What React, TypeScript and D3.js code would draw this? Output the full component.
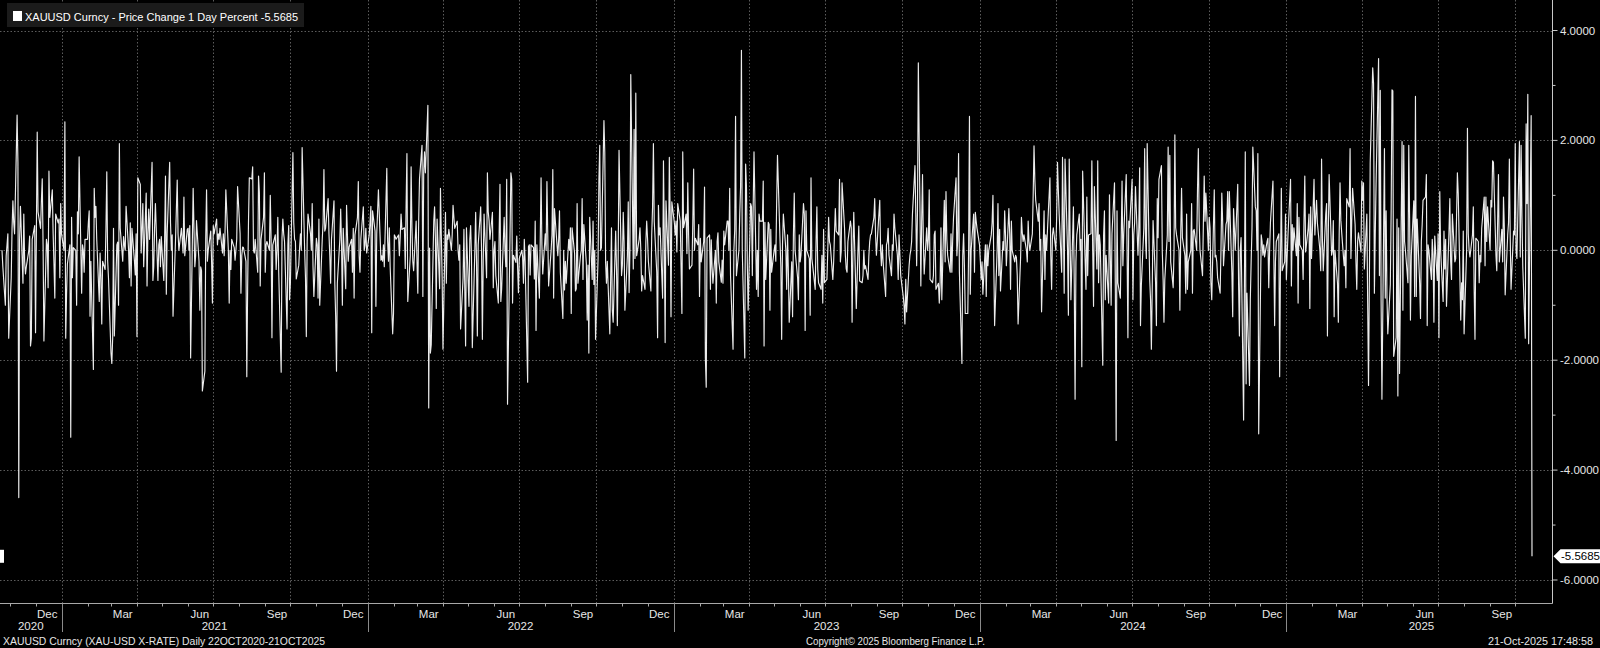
import React, { useMemo } from "react";
import * as d3 from "d3";

// ---------- DATA ----------
const legendLabel = "XAUUSD Curncy - Price Change 1 Day Percent";
const lastValue = -5.5685;
const firstDate = new Date(2020, 9, 22);
const lastDate = new Date(2025, 9, 21);
const yTickValues = [4, 2, 0, -2, -4, -6];
const yMinorTickValues = [3, 1, -1, -3, -5];
const monthNames = ["Jan", "Feb", "Mar", "Apr", "May", "Jun", "Jul", "Aug", "Sep", "Oct", "Nov", "Dec"];
const labelledMonths = [11, 2, 5, 8];
const footerLeft = "XAUUSD Curncy (XAU-USD X-RATE) Daily 22OCT2020-21OCT2025";
const footerMid = "Copyright\u00A9 2025 Bloomberg Finance L.P.";
const footerRight = "21-Oct-2025 17:48:58";

// daily % change
const pctLate2020to2021Q1 = [
  0.0, -0.3, -1.0, -0.1, 0.1, 0.3, -1.6, -0.5, 0.4, 0.9,
  0.5, 0.3, 2.46, 1.6, -4.5, 0.2, 0.8, -0.6, 0.66, -0.2,
  -0.43, -0.3, 0.0, 0.26, -1.74, -1.6, 0.2, 0.45, -1.5, 0.3,
  2.15, 0.7, 0.4, 0.9, 1.3, 0.1, -1.65, 0.2, 0.1, -0.68,
  1.44, 0.6, 1.1, 0.3, -0.25, -0.87, 0.66, 0.5, 0.57, -0.5,
  0.85, 0.3, 0.0, 2.34, -1.6, -0.8, -0.25, 0.1, -3.4, 0.6,
  -0.5, 0.05, 0.0, -1.0, 0.7, 0.3, 1.7, -0.78, 0.1, 0.0,
  -0.4, 0.2, 0.2, 0.5, 0.72, -1.2, -0.2, -2.17, 1.13, 0.6,
  0.8, 0.2, -0.93, -0.05, -0.5, -1.34, -0.2, -0.35, 0.4, 1.43,
  -0.18, -0.5, -1.87, -2.06, -1.6, 0.4, -1.56, 0.1, 0.15, -1.0,
  1.94, 0.4, -0.2, 0.25, 0.1, 0.0, 0.8, 0.0, -0.5, 0.5,
  -0.65, 0.4, -0.2, -0.45, 0.3, -1.57, 1.32, 1.2, -0.05, 0.4,
  0.85, -0.3, 1.04, -0.65, 0.3, 0.75, 0.2, 1.6, -0.55, -0.3,
  0.4, 0.85, -0.55, 0.1, 0.2, -0.3, 0.25, -0.55, 0.2, 1.35,
  -0.8, 0.3, 1.6, 0.5, 0.0, 0.28, -1.2, 0.2, 0.75, 1.28,
  0.3, 0.0, 0.4, 0.2, -0.05, 0.97, -0.1, 0.38, 0.4, 0.0,
  0.45,
];
const pct2021b = [
  -1.96, 1.13, 0.4, -0.3, -0.1, 0.54, -0.2, -1.09, -0.3, -0.37,
  -2.56, -2.2, 0.2, 1.1, -0.2, 0.0, 0.35, -0.2, -0.96, 0.45,
  0.3, 0.57, 0.1, 0.3, 0.2, 0.4, -0.05, 0.3, -0.1, 0.3,
  1.1, 0.0, -0.96, 0.0, -0.35, 0.2, 0.05, -0.18, 0.0, 0.2,
  1.16, 0.3, -0.78, -0.1, 0.06, 0.05, -0.2, -2.3, -0.7, 0.5,
  1.32, 1.3, 1.52, 0.0, -0.05, 0.2, -0.4, 1.35, 1.05, -0.65,
  0.2, 0.6, 1.41, -0.4, 0.1, 0.16, 0.0, 1.0, 0.2, -1.59,
  0.1, 0.28, -0.35, 0.0, 0.6, -0.35, -2.22, 0.23, 0.57, 0.3,
  0.16, -1.43, 0.1, 0.45, -0.9, -0.6, 1.78, 0.5, 0.2, 0.16,
  -0.52, -0.27, 0.05, 0.3, 0.0, 1.87, 0.0, -0.5, -1.57, 0.16,
  0.66, 0.3, 0.0, 0.85, -0.3, -0.84, 0.22, 0.1, -0.87, 0.57,
  -1.0, 0.2, 0.5, 1.47, 0.35, 0.4, 0.94, 0.3, -0.1, -0.6,
  0.2, 0.9, -0.62, -1.2, -2.2, -0.6, 0.2, 0.75, 0.1, -1.0,
  0.4, -0.7, 0.82, 0.3, -0.2, 0.06, 0.2, -0.4, 0.4, -0.87,
  0.28, 0.6, 1.25, -0.1, -0.4, 0.2, 0.79, 0.0, 0.1, 0.4,
  -0.05, 0.28, 0.5, 0.8, -1.5, 0.72, 0.35, -1.02, 0.3, 0.7,
  1.1, -0.18,
];
const pct2022a = [
  -0.1, -0.2, 0.1, -0.3, 1.49, 0.16, -0.2, 0.41, -0.3, -1.52,
  -1.15, 0.28, 0.25, 0.2, 0.28, -0.1, 0.25, 0.66, 0.38, 0.41,
  -0.33, 0.8, 1.76, -0.93, -0.1, 1.52, 0.4, -0.2, -0.37, 0.53,
  -0.2, -0.78, 0.53, 1.3, 1.91, -0.84, 1.41, 1.79, 1.41, 2.64,
  -2.87, 0.04, -1.87, -1.72, 0.53, 0.79, 0.2, -1.06, 0.57, -0.7,
  1.13, 0.28, -0.5, -1.8, 0.69, -0.6, 0.28, 0.2, 0.38, 0.0,
  0.28, 0.82, 0.6, 0.4, 0.53, 0.0, -0.18, 0.1, -1.43, -0.5,
  0.38, -0.7, -1.74, 0.41, -1.02, 0.2, 0.45, -0.1, -1.77, 0.0,
  0.69, -0.22, -1.56, 0.1, 0.79, 0.0, -1.62, -0.2, 0.66, -0.5,
  1.41, 0.7, 0.54, 0.2, 0.69, -0.68, 0.0, 0.16, -0.46, -0.96,
  0.3, 1.2, -0.93, -0.7, 0.6, 0.0, -0.3, 1.29, -2.8, 0.3,
  1.41, 1.29, -0.96, -0.09, -0.22, 0.26, -0.3, -0.77, -0.15, 0.0,
  -0.12, -0.6, 0.2, -0.2, -2.4, 0.07, 0.1, -0.45, 0.1, 0.05,
  -0.52, 0.53, -1.46, 0.1, -0.87, 0.16, 1.32, 0.1, -0.43, 0.3,
  0.0, 1.25, 0.28, -0.65, 0.0, 0.28, 1.47, -0.87, 0.76, 0.1,
  -0.1, 0.2, 0.72, -0.4, -1.24, 0.0, -0.72, -0.2, -0.6, 0.2,
  0.0, 0.41,
];
const pct2022b2023a = [
  -1.15, 0.41, -0.06, -0.74, -0.7, 0.85, -0.6, -0.1, 0.0, 0.94,
  -0.53, 0.47, -0.24, -1.27, -0.27, -1.87, 0.6, -0.53, 0.53, -0.62,
  0.0, -1.62, -0.15, 1.29, 1.91, 0.0, 0.05, 2.36, 1.79, -0.22,
  -0.6, -0.2, -1.52, -0.53, 0.41, -1.09, -1.31, 0.35, -0.34, -1.37,
  -0.09, 1.82, -0.46, -0.27, 0.69, 0.16, -1.09, -0.09, 0.88, -0.77,
  0.0, 3.2, -0.34, 2.2, -0.15, 2.86, -0.1, 0.2, 0.41, 0.0,
  -0.74, -0.46, -0.71, 0.16, 0.53, 0.22, -0.2, -0.74, 0.28, 0.79,
  1.94, 0.53, -0.4, -1.59, 0.82, 0.28, 0.41, -0.87, 1.63, 0.28,
  -1.68, 0.9, -0.27, 1.69, 0.66, -1.21, 0.88, 0.5, 0.28, 0.53,
  -0.03, 0.85, 0.53, -0.3, -1.15, 1.79, 0.41, 0.66, -0.06, 1.23,
  0.28, -0.34, -0.27, 0.5, 1.48, 0.0, 0.22, 0.1, 0.47, -0.84,
  0.22, -0.21, 0.16, 1.15, -1.96, -2.49, 0.22, 0.28, -0.71, 0.19,
  -0.3, -0.6, 0.0, -0.96, 0.16, 0.32, -0.21, -0.58, -0.18, -0.6,
  0.35, 0.1, 0.53, 0.53, 0.0, 1.13, -0.46, -1.8, 0.0, 0.38,
  2.44, -0.46, 0.0, 0.66, 1.16, 3.64, 0.0, -1.96, 1.57, 1.16,
  -0.22, -1.09, 0.85, 0.79, -0.46, 0.79, 1.79, -0.71, 0.0, -0.84,
  0.66, 0.53,
];
const pct2023b = [
  0.53, 1.26, -1.74, 0.51, -0.53, 0.51, 0.47, -1.09, 0.38, -0.4,
  0.0, 0.1, -0.2, 0.85, 1.73, 0.2, -0.3, -1.62, 0.1, 0.66,
  0.0, -0.71, 0.28, -0.4, -1.31, -0.21, -1.21, 0.28, 1.04, 0.0,
  -0.5, -0.9, 0.28, -0.21, -0.09, 0.85, 0.66, -1.46, 0.72, 0.0,
  -0.15, -1.18, 1.32, -0.15, -0.28, -0.71, 0.16, 0.79, -0.34, -0.59,
  -0.71, -0.09, -0.96, 0.38, -0.59, -0.53, 0.0, 0.6, 0.16, 0.1,
  -0.53, -0.21, 0.3, 0.76, 0.35, 0.28, 1.29, -0.21, -0.02, 1.23,
  0.4, -0.1, -0.34, -0.4, 0.16, 0.53, 0.41, -1.31, 0.0, 0.69,
  -1.06, -0.53, 0.0, 0.44, -0.56, -0.59, -0.46, 0.0, -0.34, -0.28,
  -0.53, -0.1, 0.16, 0.28, 0.3, 0.6, 0.94, 0.28, -0.09, 0.16,
  0.91, 0.0, -0.28, 0.1, -0.21, -0.84, 0.1, 0.16, 0.4, -0.09,
  -0.46, 0.1, 0.0, 0.66, 0.41, -0.09, -0.53, 0.28, -0.09, -0.46,
  -0.84, -1.0, -1.34, -0.53, -1.12, -0.28, -0.09, 0.0, 0.16, 0.66,
  1.54, 0.66, -0.28, 0.72, 3.41, -0.65, 0.53, 1.38, 0.16, -0.43,
  0.41, 0.0, 0.2, 1.1, -0.53, -0.59, -0.46, 0.28, 0.35, -0.71,
  -0.6, -0.96, -0.59, 0.41, -0.9, 0.91, -0.21, 1.07, 0.2, -0.09,
  -0.4, 0.3,
];
const pct2024a = [
  -0.4, 0.2, 0.6, 1.32, -0.1, 0.2, 1.76, -0.4, -2.06, -0.09,
  0.3, -0.3, -1.15, -1.15, 0.0, 2.44, -0.8, 0.0, 0.66, -0.4,
  0.69, 0.53, 0.4, 0.1, -0.2, -0.53, -0.21, -0.8, 0.1, -0.84,
  0.1, -0.28, 0.0, 0.28, 0.5, 1.0, -0.21, -1.37, 0.0, 0.85,
  -0.46, 0.38, -0.74, 0.16, 0.0, 0.72, 0.28, -0.28, 0.76, 0.3,
  -0.71, 0.53, 0.0, -0.21, -0.09, -0.13,
  -0.46, -1.34, -0.13, 0.6, 0.32, 0.16, 0.28, 0.0, -0.21, 0.53,
  0.16, 0.0, 0.3, 1.0, 1.9, 1.29, 0.91, 0.53, 0.85, 0.0,
  0.2, -1.12, 0.72, -0.53, 0.28, 0.0, 0.35, 1.32, -0.09, -0.71,
  0.28, 0.41, 0.0, 0.6, 1.6, 1.1, 0.66, -0.4, 1.69, 0.53,
  -0.78, 1.66, 0.0, -1.18,
  1.66, 0.28, -0.9, 0.79, -0.6, -2.71, -0.21, 0.28, 0.66, 0.0,
  0.2, -2.12, 1.44, -0.21, -0.71, 0.97, -0.46, 0.28,
  0.3, 1.63, 0.0, -1.02, 1.16, -0.34, 1.63, -0.59, 0.28, 0.1,
  -2.09, 0.28, 0.72, -0.9, -0.09, -0.96, 1.01, -0.1, -1.0, 0.3,
  1.23, -0.71, -3.46, 0.72, -0.59, -0.87, 0.2, 1.26, -0.28, 0.28,
  1.38, 0.0, -1.59, 0.53, 0.41, 1.29, -0.9, 0.28, 0.5, 1.16,
  -0.09, 0.41, 1.5, -1.37,
];
const pct2024b = [
  -0.65, 0.41, 1.85, 0.2, -0.15, 1.94, -0.53, -0.9, -1.8, -0.71,
  0.54, -0.59, -1.37, 0.94, 0.23, 1.29, 1.54, -0.02, -0.53, -1.31,
  -0.53, 0.28, 1.88, 0.16, 1.73, -0.21, -0.68, 0.0, 2.1, 0.41,
  0.28, 0.0, -1.09, 0.3, 1.13, 0.23, -0.1, -0.78, 0.66, -0.71,
  -0.21, 0.0, 0.85, -0.78, 0.35, 0.38, 0.0, 1.1, 1.85, 0.53,
  0.0, -0.46, 0.47, 1.35, 0.53, 1.04, 0.0, 0.6, 0.4, -0.59,
  -0.9, 1.1, -0.12, -0.09, -0.21, -0.5, -0.78, 0.0, 1.04, 0.53,
  -0.28, 0.47, 0.53, 1.07, 0.0, 1.07, -0.4, -1.21, 0.76, 0.41,
  0.0, 1.2, -0.6, -1.56, 0.0, 0.23, -3.09, -0.53, 1.79, -2.43,
  -0.78, -2.46, -0.9, -0.21, 0.4, 1.88, 0.79, 0.72, 0.0, 1.76,
  -3.34, 0.28, 0.16, -0.09, 0.1, -0.12, 0.16, 0.22, -0.68, 0.0,
  0.5, 1.26, 0.0, -1.37, -0.2, 0.16, 0.3, -2.3, -0.21, 1.13,
  -0.37, -0.21, 0.66, -0.53, -0.09, 0.3, 1.29, -0.65, 0.47, 0.0,
  0.41, -0.1, 0.85, -0.96, 0.6, 0.1, 0.0, -0.53, 0.53, 1.35,
  -0.03, 0.4, 0.66, -1.06, 0.79, -0.15, 1.29, 0.28, 0.6, 0.91,
  0.5, 0.0, -0.37, 1.66, 0.2, -0.37, 0.66, 0.85, -1.56, 0.28,
  1.38, -0.09,
];
const pct2025 = [
  0.0, 0.54, -1.21, 0.0, -0.6, -1.31, 0.28, 1.23, 0.54, -0.1,
  -0.28, 0.0, -0.68, 0.94, 0.79, 1.85, -0.15, 0.54, 1.13, 0.47,
  -0.21, -0.71, 0.16, 0.32, -0.03, 1.26, 0.91, 1.23, -0.34, 0.66,
  -0.96, -2.46, -0.59, 1.6, 3.32, 3.04, -0.78, 0.28, 1.2, 3.49,
  -0.46, 2.91, -0.9, -2.71, 1.85, -0.87, 0.72, -0.84, -1.52, -0.62,
  0.72, 2.92, 2.9, -1.93, -1.59, 0.57, -2.65, 0.41, -2.24, 1.98,
  -1.09, 1.91, 0.16, 0.0, -0.59, 1.91, 0.6, -1.27, -0.1, 0.9,
  -0.84, 2.8, -0.84, 0.57, -0.6, -1.24, 0.16, 0.47, 0.91, 0.97,
  1.38, -1.37, 0.1, 0.0, -0.53, 0.2, -0.09, -1.31, 0.26, -0.55,
  0.3, -1.59, 1.07, 0.0, -0.93, 0.35, -0.34, 0.2, -1.02, 0.35,
  0.94, -0.21, -0.53, 0.66, -0.21, -0.15, 0.6, 1.41, 1.04, -1.27,
  -0.59, -0.9, 0.35, -1.52, 0.0, 2.22, 0.3, 0.0, -0.12, 0.28,
  0.79, -0.71, -1.62, 0.22, 0.16, -0.59, -0.09, -0.21, 0.4, 0.97,
  -0.28, 0.97, 0.16, 0.79, 0.0, 0.91, 0.79, 1.63, 1.6, -0.09,
  -0.37, 0.53, 1.38, -0.21, 0.38, -0.21, 0.97, 0.41, -0.81, 0.28,
  0.5, 1.66, 0.28, -0.71, 0.35, 0.28, 1.94, 0.0, -0.15, 1.98,
  -0.12, 1.91,
];
const pctOct2025 = [0.62, -0.3, -1.6, 2.3, 0.85, 2.84, -1.7, 2.45, -5.5685];

const pctValues = [
  ...pctLate2020to2021Q1, ...pct2021b, ...pct2022a, ...pct2022b2023a,
  ...pct2023b, ...pct2024a, ...pct2024b, ...pct2025, ...pctOct2025,
];

// ---------- LAYOUT ----------
const W = 1600;
const H = 648;
const AXIS_X = 1552.5;
const AXIS_Y = 603.5;
const FONT = "'Liberation Sans Narrow', 'Liberation Sans', Arial, sans-serif";

function weekdaysBack(end: Date, n: number): Date[] {
  const out: Date[] = [];
  const d = new Date(end);
  while (out.length < n) {
    const wd = d.getDay();
    if (wd !== 0 && wd !== 6) out.push(new Date(d));
    d.setDate(d.getDate() - 1);
  }
  return out.reverse();
}

export default function App() {
  const dates = useMemo(() => weekdaysBack(lastDate, pctValues.length), []);
  const x = d3.scaleTime().domain([firstDate, lastDate]).range([2, 1532]);
  const y = d3.scaleLinear().domain([-6, 4]).range([580, 30.5]);

  const path = d3
    .line<number>()
    .x((_, i) => x(dates[i]))
    .y((d) => y(d))(pctValues) as string;

  const quarterStarts = d3.timeMonth.every(3)!.range(new Date(2020, 10, 1), lastDate);
  const monthStarts = d3.timeMonth.range(new Date(2020, 10, 1), lastDate);
  const yearStarts = d3.timeYear.range(new Date(2020, 11, 1), lastDate);
  const monthLabelDates = d3.timeMonth
    .range(new Date(2020, 10, 1), lastDate)
    .filter((d) => labelledMonths.includes(d.getMonth()))
    .map((d) => new Date(d.getFullYear(), d.getMonth(), 15));
  const yearBounds = [0, ...yearStarts.map((d) => x(d)), AXIS_X + 4];
  const yearLabels = d3.range(2020, 2026).map((yr, i) => ({
    yr,
    cx: (yearBounds[i] + yearBounds[i + 1]) / 2,
  }));

  const yLast = y(lastValue);

  return (
    <svg
      width={W}
      height={H}
      style={{ position: "absolute", left: 0, top: 0, display: "block", background: "#000" }}
      fontFamily={FONT}
    >
      <rect x={0} y={0} width={W} height={H} fill="#000" />

      {/* horizontal grid */}
      {yTickValues.map((v) => (
        <line
          key={"hg" + v}
          x1={0}
          x2={AXIS_X}
          y1={Math.round(y(v)) + 0.5}
          y2={Math.round(y(v)) + 0.5}
          stroke="#5c5c5c"
          strokeDasharray="1.5 2"
        />
      ))}
      {/* vertical grid */}
      {quarterStarts.map((d) => (
        <line
          key={"vg" + d.getTime()}
          x1={Math.round(x(d)) + 0.5}
          x2={Math.round(x(d)) + 0.5}
          y1={0}
          y2={AXIS_Y}
          stroke="#5c5c5c"
          strokeDasharray="1.5 2"
        />
      ))}

      {/* series */}
      <path d={path} fill="none" stroke="#ececec" strokeWidth={1.15} strokeLinejoin="round" />

      {/* axes */}
      <line x1={0} x2={AXIS_X} y1={AXIS_Y} y2={AXIS_Y} stroke="#a8a8a8" />
      <line x1={AXIS_X} x2={AXIS_X} y1={0} y2={AXIS_Y} stroke="#c8c8c8" />
      {monthStarts.map((d) => (
        <line
          key={"mt" + d.getTime()}
          x1={Math.round(x(d)) + 0.5}
          x2={Math.round(x(d)) + 0.5}
          y1={AXIS_Y}
          y2={AXIS_Y + 3}
          stroke="#a8a8a8"
        />
      ))}
      {yearStarts.map((d) => (
        <line
          key={"ys" + d.getTime()}
          x1={Math.round(x(d)) + 0.5}
          x2={Math.round(x(d)) + 0.5}
          y1={AXIS_Y}
          y2={632}
          stroke="#8a8a8a"
        />
      ))}
      {monthLabelDates.map((d) => (
        <text
          key={"ml" + d.getTime()}
          x={x(d)}
          y={617.5}
          fill="#e6e6e6"
          fontSize={11.5}
          textAnchor="middle"
        >
          {monthNames[d.getMonth()]}
        </text>
      ))}
      {yearLabels.map((o) => (
        <text key={"yl" + o.yr} x={o.cx} y={630} fill="#e6e6e6" fontSize={11.5} textAnchor="middle">
          {o.yr}
        </text>
      ))}

      {/* right axis ticks + labels */}
      {yTickValues.map((v) => (
        <g key={"yt" + v}>
          <line x1={AXIS_X} x2={AXIS_X + 5} y1={y(v)} y2={y(v)} stroke="#c8c8c8" />
          <text x={1560} y={y(v) + 4} fill="#e6e6e6" fontSize={11.5}>
            {v.toFixed(4)}
          </text>
        </g>
      ))}
      {yMinorTickValues.map((v) => (
        <line key={"ymt" + v} x1={AXIS_X} x2={AXIS_X + 3} y1={y(v)} y2={y(v)} stroke="#c8c8c8" />
      ))}

      {/* last value callout */}
      <path
        d={`M${AXIS_X + 1},${yLast} L${AXIS_X + 8},${yLast - 7} L${W},${yLast - 7} L${W},${yLast + 7} L${AXIS_X + 8},${yLast + 7} Z`}
        fill="#ffffff"
      />
      <text x={1561} y={yLast + 4} fill="#000" fontSize={11.5}>
        {lastValue.toFixed(4)}
      </text>
      <rect x={0} y={yLast - 6.5} width={4} height={13} fill="#ffffff" />

      {/* legend */}
      <rect x={7} y={3} width={297} height={24} fill="#1b1b1b" />
      <rect x={13} y={11} width={9} height={10} fill="#ffffff" />
      <text
        x={25}
        y={20.5}
        fill="#ffffff"
        fontSize={11.5}
        textLength={273}
        lengthAdjust="spacingAndGlyphs"
      >
        {`${legendLabel} ${lastValue.toFixed(4)}`}
      </text>

      {/* footer */}
      <text x={3} y={645} fill="#e6e6e6" fontSize={11.5} textLength={322} lengthAdjust="spacingAndGlyphs">
        {footerLeft}
      </text>
      <text x={806} y={645} fill="#e6e6e6" fontSize={11.5} textLength={179} lengthAdjust="spacingAndGlyphs">
        {footerMid}
      </text>
      <text x={1488} y={645} fill="#e6e6e6" fontSize={11.5} textLength={105} lengthAdjust="spacingAndGlyphs">
        {footerRight}
      </text>
    </svg>
  );
}
